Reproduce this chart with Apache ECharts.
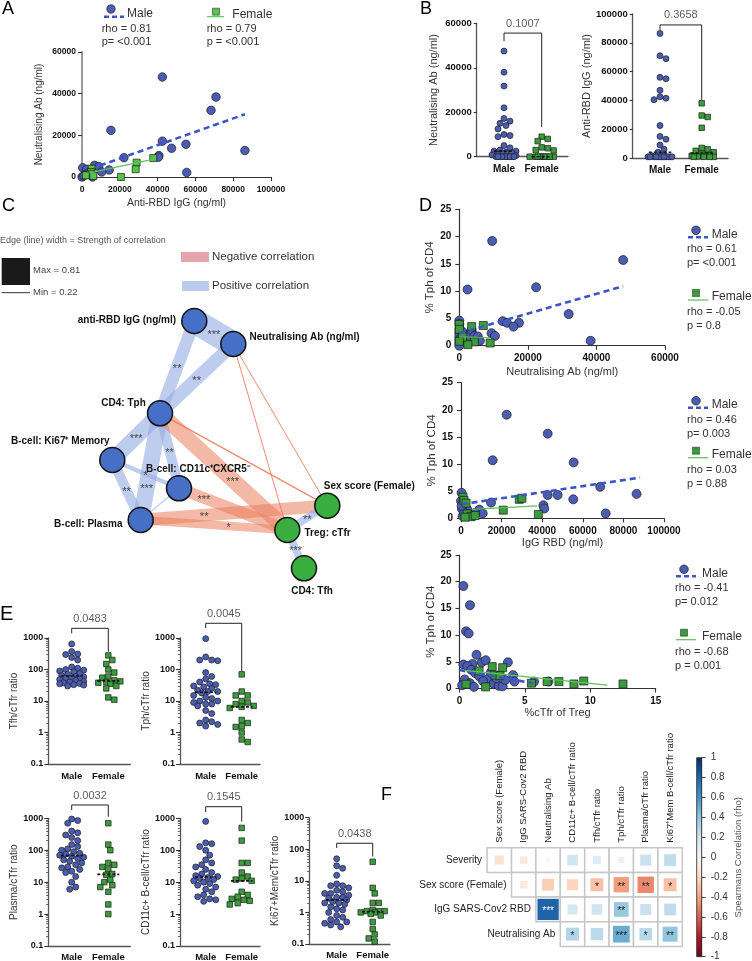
<!DOCTYPE html>
<html>
<head>
<meta charset="utf-8">
<script src="https://cdn.jsdelivr.net/npm/echarts@6.0.0/dist/echarts.min.js"></script>
<style>html,body{margin:0;padding:0;background:#fff;}#chart{width:752px;height:961px;}</style>
</head>
<body>
<div id="chart"></div>
<script>
// ================= DATA =================
const groups = ['Male', 'Female'];

// Panel A: Anti-RBD IgG (x) vs Neutralising Ab (y)
const A_male = [[42500,48000],[70900,38400],[68250,32000],[15300,22400],[42500,17200],[55000,15700],[47400,13800],[86200,12700],[40700,10300],[40400,9500],[22200,9300],[6700,5600],[8800,5000],[350,4400],[2500,3700],[14400,3400],[0,0],[2100,1300],[5600,0],[10400,2400],[55400,2200],[1000,600]];
const A_female = [[28900,6900],[37700,9100],[28400,3700],[5100,4000],[4800,2400],[4400,1500],[6000,500],[20600,0],[2000,800]];
const A_maleFit = [[9500,5500],[86200,30100]];
const A_femaleFit = [[4000,2000],[38000,8600]];
const A_stats = ['rho = 0.81', 'p= <0.001', 'rho = 0.79', 'p = <0.001'];

// Panel B
const B_neut_male = [47500,38000,31800,22000,17200,16000,15000,14000,12500,10000,9500,9000,5000,4000,3000,2500,2500,2000,1800,1500,1000,800,500,0,0,0,0,0,0,0,0,0,0];
const B_neut_female = [9000,8000,7000,4200,3800,3000,2800,0,0,0,0,0,0,0,0,0,0];
const B_igg_male = [86500,71000,69000,56000,55000,47000,42500,41500,40500,22500,15000,13000,9000,6000,4000,2000,1500,800,800,800,800,800,800,800,800,800,800,800,800];
const B_igg_female = [38000,29500,28500,21000,7000,6000,5000,4000,3000,2000,1500,1000,800,800,800,800];
const B_p = ['0.1007', '0.3658'];

// Panel C: correlation network
const C_nodes = ['anti-RBD IgG (ng/ml)','Neutralising Ab (ng/ml)','CD4: Tph','B-cell: Ki67\u207A Memory','B-cell: CD11c\u207ACXCR5\u207B','B-cell: Plasma','Sex score (Female)','Treg: cTfr','CD4: Tfh'];
const C_nodeXY = [[194.3,321],[233.3,344],[160,413.3],[112.3,460],[179,488.3],[140.7,520],[327.3,505.7],[287.3,530],[304,568.3]];
const C_nodeGroup = ['B','B','B','B','B','B','G','G','G'];
// [source, target, rho, significance]
const C_edges = [[0,1,0.81,'***'],[0,2,0.50,'**'],[1,2,0.52,'**'],[2,3,0.58,'***'],[2,4,0.44,'**'],[2,5,0.60,'***'],[3,5,0.44,'**'],[3,4,0.30,'*'],[4,5,0.23,''],[2,7,-0.58,'***'],[2,6,-0.23,''],[1,6,-0.22,''],[1,7,-0.22,''],[4,7,-0.48,'***'],[5,6,-0.50,'**'],[5,7,-0.40,'*'],[6,7,0.38,'**'],[7,8,0.38,'***']];

// Panel D
const D1_male = [[47800,15.7],[9600,19.2],[2400,10.3],[22400,10.7],[31900,5.8],[38300,0.9],[12650,4.5],[13900,4.2],[17400,4.2],[15800,3.5],[9400,2.3],[10400,1.8],[2300,2.0],[3600,2.9],[4400,1.8],[5400,1.7],[6000,0.9],[2600,0.7],[0,4.6],[0,4.0],[0,3.0],[0,2.3],[0,1.7],[0,1.1],[0,0.5],[0,0.0],[500,1.4],[800,2.6]];
const D1_female = [[3600,3.5],[7000,3.7],[0,3.9],[0,3.0],[4400,0.7],[9000,0.5],[2500,0.2],[1000,1.6],[0,0.8]];
const D1_maleFit = [[0,2.3],[47800,10.9]];
const D1_femaleFit = [[0,1.6],[9000,1.5]];
const D1_stats = ['rho = 0.61','p= <0.001','rho = -0.05','p = 0.8'];

const D2_male = [[22500,19.1],[42700,15.6],[15600,10.7],[55500,10.3],[68600,5.8],[86500,4.5],[42700,4.3],[47600,4.3],[55300,3.5],[14800,2.9],[40600,2.4],[41000,1.8],[71300,0.9],[9000,1.6],[10700,0.9],[7000,1.0],[3000,1.7],[5300,0.5],[300,4.7],[0,3.2],[500,1.7],[800,0.4],[1500,1.0],[300,2.3]];
const D2_female = [[28700,3.5],[30000,3.7],[20800,1.5],[38100,0.7],[1000,3.9],[1500,3.3],[2500,2.8],[3000,0.8],[5000,0.3],[7000,0.5],[2000,0.2]];
const D2_maleFit = [[300,2.6],[88200,7.5]];
const D2_femaleFit = [[5300,1.65],[37600,2.3]];
const D2_stats = ['rho = 0.46','p= 0.003','rho = 0.03','p = 0.88'];

const D3_male = [[0.3,19.2],[0.8,15.6],[0.5,10.7],[0.7,10.3],[3.7,4.9],[1.3,6.3],[1.7,4.9],[2.0,5.3],[1.0,4.6],[4.1,2.5],[4.2,1.3],[5.7,1.3],[6.8,1.3],[0.3,4.5],[0.6,4.2],[0.9,3.5],[1.2,2.9],[1.5,2.3],[2.2,1.8],[2.6,0.9],[3.0,0.5],[0.4,1.7],[0.8,1.0],[1.8,1.4],[2.8,1.9],[3.3,0.4],[0.2,0.6],[1.1,0.3],[2.4,3.0],[3.5,1.6]];
const D3_female = [[2.5,4.1],[3.3,3.9],[2.7,2.5],[3.1,2.4],[5.5,1.0],[6.7,1.3],[7.6,1.3],[8.75,0.85],[9.5,1.4],[12.5,0.85],[1.5,3.3],[0.5,0.8],[2.0,0.3]];
const D3_maleFit = [[0,3.45],[5.6,1.0]];
const D3_femaleFit = [[0.4,3.4],[11.3,0.65]];
const D3_stats = ['rho = -0.41','p= 0.012','rho = -0.68','p = 0.001'];

// Panel E (ratios, log scale)
const E_tfh_male = [650,370,310,300,240,200,120,110,100,95,90,85,75,70,65,60,58,55,52,50,48,45,42,40,38,36,35,33,32,30];
const E_tfh_female = [280,200,150,100,80,60,55,45,42,40,38,35,30,25,13,11];
const E_tph_male = [950,250,200,200,190,80,60,50,40,35,33,30,28,25,22,20,20,18,15,13,12,10,10,9,8,8,7,5,4,2.5,2.2,2,1.8,1.6];
const E_tph_female = [70,20,15,15,10,9,8,7,6.5,6,2.5,2,1.6,1.5,1,0.6,0.5];
const E_pla_male = [950,850,700,400,350,300,250,200,150,130,110,100,90,80,75,70,65,60,55,50,45,40,35,30,28,25,22,20,15,10,7,6];
const E_pla_female = [700,150,100,40,35,30,25,18,17,12,10,8,7,5,2,1];
const E_cd11_male = [800,170,160,130,100,70,50,40,35,30,25,20,18,16,15,14,13,12,11,10,9,8,7,6,5,4,3.5,3,2.8,2.5];
const E_cd11_female = [500,200,40,40,20,15,13,12,11,5,4,3.5,3,2.8,2.6,2.2,2];
const E_ki_male = [50,30,25,15,8,7,7,6,5,4.5,4,4,3.5,3,3,2.8,2.5,2.2,2,2,1.8,1.5,1.3,1.2,1,0.8,0.7,0.6,0.5,0.5,0.45,0.4,0.35];
const E_ki_female = [40,6,4,2,2,1.2,1.1,1.1,1.1,1,1,0.9,0.8,0.5,0.3,0.2,0.15,0.12];
const E_p = ['0.0483','0.0045','0.0032','0.1545','0.0438'];

// Panel F: Spearman correlation matrix
const F_cols = ['Sex score (Female)','IgG SARS-Cov2 RBD','Neutralising Ab','CD11c+ B-cell/cTfr ratio','Tfh/cTfr ratio','Tph/cTfr ratio','Plasma/cTfr ratio','Ki67\u207AMem B-cell/cTfr ratio'];
const F_rows = ['Severity','Sex score (Female)','IgG SARS-Cov2 RBD','Neutralising Ab'];
const F_rho = [
  [-0.15,-0.10,-0.03,0.20,0.12,0.07,0.22,0.25],
  [null,-0.10,-0.25,-0.22,-0.30,-0.42,-0.48,-0.30],
  [null,null,0.81,0.18,0.20,0.38,0.22,0.25],
  [null,null,null,0.30,0.27,0.50,0.28,0.40]
];
const F_stars = [
  ['','','','','','','',''],
  ['','','','','*','**','**','*'],
  ['','','***','','','**','',''],
  ['','','','*','','***','*','**']
];
const F_ticks = [-1,-0.8,-0.6,-0.4,-0.2,0,0.2,0.4,0.6,0.8,1];

// ================= STYLE / HELPERS =================
const FONT = "'Liberation Sans', Arial, Helvetica, sans-serif";
const MALE = '#4b5db2', FEMALE = '#3a9c3a', FEMALE_A = '#56c247', EDGE = '#1d1d1d';
const MALE_LINE = '#3a55c8', FEMALE_LINE = '#5cc25c';
const RDBU = ['#67001f','#b2182b','#d6604d','#f4a582','#fddbc7','#f7f7f7','#d1e5f0','#92c5de','#4393c3','#2166ac','#053061'];

function merge(a, b) {
  const o = Object.assign({}, a);
  for (const k in b) {
    const bv = b[k];
    if (bv && typeof bv === 'object' && !Array.isArray(bv) && typeof bv !== 'function' && a && a[k] && typeof a[k] === 'object' && !Array.isArray(a[k])) o[k] = merge(a[k], bv);
    else o[k] = bv;
  }
  return o;
}
function fmtNum(v) { return String(+(+v).toPrecision(6)); }
function median(a) { const s = a.slice().sort((x, y) => x - y); const n = s.length; return n % 2 ? s[(n - 1) / 2] : (s[n / 2 - 1] + s[n / 2]) / 2; }

const grids = [], xAxes = [], yAxes = [], series = [], graphic = [];
const axisBase = {
  type: 'value', splitLine: { show: false }, nameLocation: 'middle',
  axisLine: { show: true, onZero: false, lineStyle: { color: '#333', width: 1.2 } },
  axisTick: { show: true, inside: false, length: 4, lineStyle: { color: '#333', width: 1.1 } },
  axisLabel: { show: true, fontFamily: FONT, fontWeight: 'bold', fontSize: 9, color: '#111', margin: 6, formatter: fmtNum },
  nameTextStyle: { fontFamily: FONT, fontSize: 10.5, color: '#333' }
};
function addCart(g, xo, yo) {
  const gi = grids.push(merge({ outerBoundsMode: 'none', containLabel: false, show: false }, g)) - 1;
  const xi = xAxes.push(merge(merge(axisBase, { gridIndex: gi, position: 'bottom' }), xo)) - 1;
  const yi = yAxes.push(merge(merge(axisBase, { gridIndex: gi, position: 'left' }), yo)) - 1;
  return { gi, xi, yi };
}
function scatterS(c, data, sym, size, color, z) {
  return { type: 'scatter', xAxisIndex: c.xi, yAxisIndex: c.yi, data, symbol: sym, symbolSize: size,
    itemStyle: { color, borderColor: EDGE, borderWidth: 0.7, opacity: 1 }, z: z || 3, silent: true, clip: false };
}
function lineS(c, data, style, z) {
  return { type: 'line', xAxisIndex: c.xi, yAxisIndex: c.yi, data, symbol: 'none', showSymbol: false,
    lineStyle: style, z: z || 4, silent: true, clip: false };
}
function gText(x, y, text, size, extra) {
  return { type: 'text', x, y, silent: true, z: 10,
    style: Object.assign({ text, fontSize: size, fontFamily: FONT, fill: '#333', align: 'left', verticalAlign: 'middle' }, extra || {}) };
}

// beeswarm offsets (pixels), deterministic
function swarmOffsets(vals, toPx, diam, maxHalf) {
  const order = vals.map((v, i) => i).sort((a, b) => vals[b] - vals[a]);
  const placed = [], off = new Array(vals.length).fill(0);
  const step = diam / 3;
  const cands = [0];
  for (let k = 1; k * step <= maxHalf; k++) cands.push(k * step, -k * step);
  for (const i of order) {
    const y = toPx(vals[i]);
    let best = 0, bestD = -1;
    for (const c of cands) {
      let md = Infinity;
      for (const p of placed) { const d = Math.hypot(p.x - c, p.y - y); if (d < md) md = d; }
      if (md >= diam * 0.95) { best = c; break; }
      if (md > bestD) { bestD = md; best = c; }
    }
    placed.push({ x: best, y }); off[i] = best;
  }
  return off;
}

function swarmPanel(o) {
  const unit = o.xf - o.xm;
  const xmin = -(o.xm - o.left) / unit, xmax = xmin + o.width / unit;
  const lg = o.log;
  const toPx = v => lg
    ? (Math.log10(Math.max(v, 1e-9)) - Math.log10(o.yMin)) / (Math.log10(o.yMax) - Math.log10(o.yMin)) * o.height
    : (v - o.yMin) / (o.yMax - o.yMin) * o.height;
  const yOpt = lg ? { type: 'log', logBase: 10, min: o.yMin, max: o.yMax } : { min: o.yMin, max: o.yMax, interval: o.yInterval };
  const c = addCart({ left: o.left, top: o.top, width: o.width, height: o.height },
    { min: xmin, max: xmax, axisTick: { show: false },
      axisLabel: { customValues: [0, 1], formatter: v => groups[Math.round(v)], fontSize: o.catFont || 9.5, margin: o.xMargin || 6, color: '#111' },
      axisLine: { lineStyle: { color: '#555', width: 1.3 } } },
    merge(yOpt, { name: o.yName, nameGap: o.nameGap,
      axisLabel: { fontSize: o.tickFont || 9, margin: o.yMargin || 5 },
      axisTick: { length: o.tickLen || 4 },
      axisLine: { lineStyle: { color: '#555', width: 1.3 } },
      nameTextStyle: { fontSize: o.nameFont || 10, color: '#333' } }));
  if (lg) {
    const minors = [];
    for (let d = Math.round(Math.log10(o.yMin)); d < Math.round(Math.log10(o.yMax)); d++)
      for (let m = 2; m <= 9; m++) minors.push(d + Math.log10(m));
    yAxes.push({ gridIndex: c.gi, type: 'value', position: 'left', min: Math.log10(o.yMin), max: Math.log10(o.yMax),
      axisLine: { show: false, onZero: false }, axisLabel: { show: false }, splitLine: { show: false },
      axisTick: { show: true, length: 2.2, customValues: minors, lineStyle: { color: '#444', width: 0.8 } } });
  }
  [o.male, o.female].forEach((vals, g) => {
    const off = swarmOffsets(vals, toPx, o.diam, o.maxHalf);
    const data = vals.map((v, i) => [g + off[i] / unit, v]);
    series.push(scatterS(c, data, g ? 'rect' : 'circle', g ? o.diam * 0.92 : o.diam, g ? FEMALE : MALE, 3));
    const med = median(vals);
    series.push(lineS(c, [[g - o.medHalf, med], [g + o.medHalf, med]], { color: '#111', width: 1.6, type: [3, 2] }, 5));
  });
  const b = o.bracket;
  series.push(lineS(c, [[0, b.l], [0, b.t], [1, b.t], [1, b.r]], { color: '#222', width: 1 }, 2));
  series.push({ type: 'scatter', xAxisIndex: c.xi, yAxisIndex: c.yi, data: [[0.5, b.t]], symbolSize: 0, silent: true, clip: false,
    label: { show: true, position: 'top', distance: 4, formatter: b.text, fontFamily: FONT, fontSize: 11, color: '#333' } });
  return c;
}

function dPanel(o) {
  const c = addCart({ left: o.left, top: o.top, width: o.width, height: o.height },
    { min: 0, max: o.xMax, interval: o.xInterval, name: o.xName, nameGap: o.xGap,
      axisLabel: { fontSize: 10, margin: 8 }, nameTextStyle: { fontSize: 11, color: '#333' } },
    { min: 0, max: 25, interval: 5, name: '% Tph of CD4', nameGap: 20,
      axisLabel: { fontSize: 10, margin: 8 }, nameTextStyle: { fontSize: 11.5, color: '#333' } });
  series.push(scatterS(c, o.male, 'circle', 9, MALE, 3));
  series.push(scatterS(c, o.female, 'rect', 8, FEMALE, 3));
  series.push(lineS(c, o.maleFit, { color: MALE_LINE, width: 2.6, type: [6, 4] }, 5));
  series.push(lineS(c, o.femaleFit, { color: FEMALE_LINE, width: 1.2 }, 5));
  return c;
}

function legendBlock(x, yMale, yFemale, stats, xText, femaleColor) {
  graphic.push({ type: 'circle', shape: { cx: x + 8, cy: yMale - 4, r: 4.3 }, style: { fill: MALE, stroke: EDGE, lineWidth: 0.7 }, silent: true, z: 10 });
  graphic.push({ type: 'line', shape: { x1: x, y1: yMale + 3, x2: x + 20, y2: yMale + 3 }, style: { stroke: MALE_LINE, lineWidth: 2.6, lineDash: [5, 3] }, silent: true, z: 10 });
  graphic.push(gText(xText, yMale, 'Male', 12));
  graphic.push(gText(x - 1, yMale + 15, stats[0], 11));
  graphic.push(gText(x - 1, yMale + 29, stats[1], 11));
  graphic.push({ type: 'rect', shape: { x: x + 4.5, y: yFemale - 7.5, width: 7, height: 7 }, style: { fill: femaleColor, stroke: EDGE, lineWidth: 0.5 }, silent: true, z: 10 });
  graphic.push({ type: 'line', shape: { x1: x, y1: yFemale + 3, x2: x + 20, y2: yFemale + 3 }, style: { stroke: FEMALE_LINE, lineWidth: 1.2 }, silent: true, z: 10 });
  graphic.push(gText(xText, yFemale, 'Female', 12));
  graphic.push(gText(x - 1, yFemale + 15, stats[2], 11));
  graphic.push(gText(x - 1, yFemale + 29, stats[3], 11));
}

// ================= PANEL A =================
const cA = addCart({ left: 82, top: 52, width: 189, height: 125 },
  { min: 0, max: 100000, interval: 20000, name: 'Anti-RBD IgG (ng/ml)', nameGap: 21,
    axisLabel: { fontSize: 8.5, margin: 8 }, nameTextStyle: { fontSize: 10.5, color: '#333' } },
  { min: 0, max: 60000, interval: 20000, name: 'Neutralising Ab (ng/ml)', nameGap: 38,
    axisLine: { lineStyle: { color: '#9a9a9a', width: 2 } }, axisLabel: { fontSize: 8.5, margin: 6 },
    nameTextStyle: { fontSize: 10, color: '#333' } });
series.push(scatterS(cA, A_male, 'circle', 8.5, MALE, 3));
series.push(scatterS(cA, A_female, 'rect', 7, FEMALE_A, 3));
series.push(lineS(cA, A_maleFit, { color: MALE_LINE, width: 2.6, type: [6, 4] }, 5));
series.push(lineS(cA, A_femaleFit, { color: FEMALE_LINE, width: 1.2 }, 5));
graphic.push({ type: 'circle', shape: { cx: 111, cy: 9, r: 4.2 }, style: { fill: MALE, stroke: EDGE, lineWidth: 0.7 }, silent: true });
graphic.push({ type: 'line', shape: { x1: 104, y1: 16.7, x2: 124, y2: 16.7 }, style: { stroke: MALE_LINE, lineWidth: 2.6, lineDash: [5, 3] }, silent: true });
graphic.push(gText(127, 14, 'Male', 12));
graphic.push(gText(101.7, 29, A_stats[0], 11));
graphic.push(gText(101.7, 42.3, A_stats[1], 11));
graphic.push({ type: 'rect', shape: { x: 212.5, y: 8.2, width: 7, height: 7 }, style: { fill: FEMALE_A, stroke: EDGE, lineWidth: 0.5 }, silent: true });
graphic.push({ type: 'line', shape: { x1: 207, y1: 16.7, x2: 224, y2: 16.7 }, style: { stroke: FEMALE_LINE, lineWidth: 1.2 }, silent: true });
graphic.push(gText(232.3, 14.3, 'Female', 12));
graphic.push(gText(206.7, 29, A_stats[2], 11));
graphic.push(gText(206.7, 42.3, A_stats[3], 11));

// ================= PANEL B =================
swarmPanel({ left: 476.7, top: 23.3, width: 91.3, height: 133.4, xm: 504, xf: 541.7, log: false,
  yMin: 0, yMax: 60000, yInterval: 20000, male: B_neut_male, female: B_neut_female, diam: 6, maxHalf: 13, medHalf: 0.27,
  yName: 'Neutralising Ab (ng/ml)', nameGap: 37, nameFont: 11, tickFont: 9.5, tickLen: 3, yMargin: 5, xMargin: 8, catFont: 10,
  bracket: { t: 55600, l: 52000, r: 13400, text: B_p[0] } });
swarmPanel({ left: 632.7, top: 14, width: 95.3, height: 144, xm: 660, xf: 701.7, log: false,
  yMin: 0, yMax: 100000, yInterval: 20000, male: B_igg_male, female: B_igg_female, diam: 6, maxHalf: 13, medHalf: 0.27,
  yName: 'Anti-RBD IgG (ng/ml)', nameGap: 38, nameFont: 11, tickFont: 9.5, tickLen: 3, yMargin: 5, xMargin: 7, catFont: 10,
  bracket: { t: 92400, l: 88900, r: 40300, text: B_p[1] } });

// ================= PANEL C =================
const cC = addCart({ left: 0, top: 0, width: 752, height: 961 },
  { min: 0, max: 752, show: false }, { min: 0, max: 961, inverse: true, show: false });
const C_labelCfg = [
  { position: 'left', distance: 5, offset: [0, -1] },
  { position: 'right', distance: 3, offset: [0, -7] },
  { position: 'left', distance: 1, offset: [0, -10] },
  { position: 'top', distance: 1, offset: [-52, 0] },
  { position: 'top', distance: 1, offset: [19, 0] },
  { position: 'left', distance: 5, offset: [0, 4] },
  { position: 'top', distance: 1, offset: [42, 0] },
  { position: 'right', distance: 4, offset: [0, 3] },
  { position: 'bottom', distance: 5, offset: [8, 0] }
];
const C_starT = [0.5,0.5,0.5,0.5,0.5,0.69,0.5,0.5,0.5,0.57,0.5,0.5,0.5,0.23,0.34,0.6,0.5,0.5];
const edgeW = r => 1 + (Math.abs(r) - 0.22) / 0.59 * 24;
const edgeC = r => r > 0 ? 'rgba(150,173,226,0.62)' : (Math.abs(r) < 0.26 ? 'rgba(235,120,85,0.85)' : 'rgba(234,125,92,0.55)');
series.push({
  type: 'graph', coordinateSystem: 'cartesian2d', xAxisIndex: cC.xi, yAxisIndex: cC.yi, layout: 'none',
  silent: true, z: 2, emphasis: { disabled: true },
  data: C_nodes.map((n, i) => ({ name: n, value: C_nodeXY[i], symbolSize: 25,
    itemStyle: { color: C_nodeGroup[i] === 'B' ? '#4570c5' : '#3aaf3f', borderColor: '#111', borderWidth: 1.5 },
    label: merge({ show: true, fontFamily: FONT, fontWeight: 'bold', fontSize: 10, color: '#111' }, C_labelCfg[i]) })),
  links: C_edges.map(e => ({ source: C_nodes[e[0]], target: C_nodes[e[1]],
    lineStyle: { width: edgeW(e[2]), color: edgeC(e[2]), opacity: 1, curveness: 0 } })),
  lineStyle: { opacity: 1 }
});
series.push({
  type: 'scatter', xAxisIndex: cC.xi, yAxisIndex: cC.yi, silent: true, z: 6, symbolSize: 0, clip: false,
  data: C_edges.map((e, i) => ({ e, t: C_starT[i] })).filter(d => d.e[3]).map(d => {
    const a = C_nodeXY[d.e[0]], b = C_nodeXY[d.e[1]];
    return { value: [a[0] + (b[0] - a[0]) * d.t, a[1] + (b[1] - a[1]) * d.t + 2],
      label: { show: true, position: 'inside', formatter: d.e[3], fontFamily: FONT, fontSize: 11, color: '#222' } };
  })
});
graphic.push(gText(0, 240.7, 'Edge (line) width = Strength of correlation', 9, { fill: '#555' }));
graphic.push({ type: 'rect', shape: { x: 1.7, y: 258, width: 28.3, height: 27 }, style: { fill: '#1a1a1a' }, silent: true });
graphic.push(gText(33, 270.5, 'Max = 0.81', 9.5, { fill: '#444' }));
graphic.push({ type: 'line', shape: { x1: 1.7, y1: 292.7, x2: 30, y2: 292.7 }, style: { stroke: '#333', lineWidth: 1 }, silent: true });
graphic.push(gText(33, 292.7, 'Min = 0.22', 9.5, { fill: '#444' }));
graphic.push({ type: 'rect', shape: { x: 181, y: 252, width: 28, height: 10 }, style: { fill: '#e4a4ae' }, silent: true });
graphic.push(gText(212, 257, 'Negative correlation', 11.5, { fill: '#333' }));
graphic.push({ type: 'rect', shape: { x: 182, y: 281, width: 27, height: 10 }, style: { fill: '#bccbea' }, silent: true });
graphic.push(gText(212, 286, 'Positive correlation', 11.5, { fill: '#333' }));

// ================= PANEL D =================
dPanel({ left: 459.3, top: 209.3, width: 205.7, height: 136.4, xMax: 60000, xInterval: 20000, xName: 'Neutralising Ab (ng/ml)', xGap: 21,
  male: D1_male, female: D1_female, maleFit: D1_maleFit, femaleFit: D1_femaleFit });
dPanel({ left: 461, top: 382.7, width: 203, height: 135.6, xMax: 100000, xInterval: 20000, xName: 'IgG RBD (ng/ml)', xGap: 19,
  male: D2_male, female: D2_female, maleFit: D2_maleFit, femaleFit: D2_femaleFit });
dPanel({ left: 459.5, top: 555, width: 196.2, height: 133.5, xMax: 15, xInterval: 5, xName: '%cTfr of Treg', xGap: 18,
  male: D3_male, female: D3_female, maleFit: D3_maleFit, femaleFit: D3_femaleFit });
legendBlock(688, 234.3, 297, D1_stats, 711.7, FEMALE);
legendBlock(688, 404.7, 454.7, D2_stats, 711.7, FEMALE);
legendBlock(676, 573.3, 636.7, D3_stats, 702, FEMALE);

// ================= PANEL E =================
const eCommon = { log: true, yMin: 0.1, yMax: 1000, diam: 6, maxHalf: 13, medHalf: 0.3, tickFont: 9, yMargin: 5, tickLen: 4, catFont: 9.5, nameFont: 10 };
swarmPanel(Object.assign({}, eCommon, { left: 48.3, top: 638, width: 82, height: 126, xm: 71.7, xf: 108.3, xMargin: 7,
  male: E_tfh_male, female: E_tfh_female, yName: 'Tfh/cTfr ratio', nameGap: 27, bracket: { t: 2030, l: 1410, r: 367, text: E_p[0] } }));
swarmPanel(Object.assign({}, eCommon, { left: 180, top: 638, width: 80, height: 126, xm: 205.7, xf: 241.7, xMargin: 7,
  male: E_tph_male, female: E_tph_female, yName: 'Tph/cTfr ratio', nameGap: 24, bracket: { t: 2930, l: 2075, r: 85, text: E_p[1] } }));
swarmPanel(Object.assign({}, eCommon, { left: 48.3, top: 818.3, width: 82, height: 127.7, xm: 71.7, xf: 108.3, xMargin: 6,
  male: E_pla_male, female: E_pla_female, yName: 'Plasma/cTfr ratio', nameGap: 27, bracket: { t: 2610, l: 1820, r: 1120, text: E_p[2] } }));
swarmPanel(Object.assign({}, eCommon, { left: 180, top: 818.3, width: 80, height: 127.7, xm: 205.7, xf: 241.7, xMargin: 6,
  male: E_cd11_male, female: E_cd11_female, yName: 'CD11c+ B-cell/cTfr ratio', nameGap: 24, bracket: { t: 2310, l: 1575, r: 782, text: E_p[3] } }));
swarmPanel(Object.assign({}, eCommon, { left: 309.3, top: 817.7, width: 80.7, height: 126.3, xm: 336.7, xf: 372.7, xMargin: 6,
  male: E_ki_male, female: E_ki_female, yName: 'Ki67+Mem/cTfr ratio', nameGap: 22, bracket: { t: 155, l: 110, r: 59, text: E_p[4] } }));

// ================= PANEL F =================
const cF = addCart({ left: 487.1, top: 847.7, width: 195.2, height: 98.8 },
  { type: 'category', data: F_cols, position: 'top', axisLine: { show: false }, axisTick: { show: false },
    axisLabel: { rotate: -90, interval: 0, fontSize: 9.5, fontWeight: 'normal', color: '#222', margin: 5, formatter: null } },
  { type: 'category', data: F_rows, inverse: true, axisLine: { show: false }, axisTick: { show: false }, axisLabel: { show: false } });
const F_cells = [], F_sq = [], F_sqStars = [], F_rowStart = [];
F_rho.forEach((row, r) => {
  let start = -1;
  row.forEach((v, ci) => {
    if (v === null) return;
    if (start < 0) start = ci;
    F_cells.push([ci, r]);
    F_sq.push([ci, r, v]);
    F_sqStars.push(F_stars[r][ci]);
  });
  F_rowStart.push([start, r]);
});
series.push({ type: 'custom', xAxisIndex: cF.xi, yAxisIndex: cF.yi, data: F_cells, silent: true, z: 2,
  renderItem: (p, api) => {
    const c = api.coord([api.value(0), api.value(1)]), s = api.size([1, 1]);
    return { type: 'rect', shape: { x: c[0] - s[0] / 2, y: c[1] - s[1] / 2, width: s[0], height: s[1] },
      style: { fill: '#fff', stroke: '#c6c6c6', lineWidth: 1.5 } };
  } });
const fSqIndex = series.length;
series.push({ type: 'custom', xAxisIndex: cF.xi, yAxisIndex: cF.yi, data: F_sq, silent: true, z: 3,
  dimensions: ['col', 'row', 'rho'], encode: { x: 0, y: 1 },
  renderItem: (p, api) => {
    const c = api.coord([api.value(0), api.value(1)]), s = api.size([1, 1]);
    const rho = api.value(2);
    const a = Math.min(s[0], s[1]) * 0.97 * Math.sqrt(Math.abs(rho));
    const ch = [{ type: 'rect', shape: { x: c[0] - a / 2, y: c[1] - a / 2, width: a, height: a }, style: { fill: api.visual('color') } }];
    const st = F_sqStars[p.dataIndex];
    if (st) ch.push({ type: 'text', x: c[0], y: c[1] + 2, style: { text: st, fill: Math.abs(rho) > 0.7 ? '#fff' : '#222', fontSize: 10, fontFamily: FONT, align: 'center', verticalAlign: 'middle' } });
    return { type: 'group', children: ch };
  } });
series.push({ type: 'custom', xAxisIndex: cF.xi, yAxisIndex: cF.yi, data: F_rowStart, silent: true, z: 3,
  renderItem: (p, api) => {
    const c = api.coord([api.value(0), api.value(1)]), s = api.size([1, 1]);
    return { type: 'text', x: c[0] - s[0] / 2 - 5, y: c[1], style: { text: F_rows[api.value(1)], fill: '#222', fontSize: 10, fontFamily: FONT, align: 'right', verticalAlign: 'middle' } };
  } });
graphic.push({ type: 'rect', shape: { x: 696.7, y: 757.7, width: 5, height: 199 }, silent: true, z: 5,
  style: { fill: { type: 'linear', x: 0, y: 0, x2: 0, y2: 1, colorStops: RDBU.slice().reverse().map((c, i) => ({ offset: i / 10, color: c })) }, stroke: '#222', lineWidth: 0.8 } });
const cBar = addCart({ left: 696.7, top: 757.7, width: 5, height: 199 },
  { min: 0, max: 1, show: false },
  { min: F_ticks[0], max: F_ticks[F_ticks.length - 1], interval: 0.2, position: 'right',
    axisLine: { lineStyle: { color: '#222', width: 0.8 } }, axisTick: { length: 4, lineStyle: { color: '#222', width: 0.8 } },
    axisLabel: { fontWeight: 'normal', fontSize: 10, color: '#333', margin: 9 },
    name: 'Spearmans Correlation (rho)', nameGap: 32, nameRotate: 90, nameTextStyle: { fontSize: 9.5, color: '#555' } });

// ================= PANEL LETTERS =================
[['A', 2, 0, 18], ['B', 420, 0, 18], ['C', 2, 197, 18], ['D', 419, 197, 18], ['E', 0, 604, 20], ['F', 381, 786, 18]].forEach(l => {
  graphic.push({ type: 'text', x: l[1], y: l[2], silent: true, style: { text: l[0], fontSize: l[3], fontFamily: FONT, fill: '#000', align: 'left', verticalAlign: 'top' } });
});

const chart = echarts.init(document.getElementById('chart'), null, { renderer: 'canvas' });
chart.setOption({
  animation: false,
  textStyle: { fontFamily: FONT },
  grid: grids, xAxis: xAxes, yAxis: yAxes, series,
  visualMap: [{ type: 'continuous', show: false, min: -1, max: 1, dimension: 2, seriesIndex: fSqIndex, inRange: { color: RDBU } }],
  graphic: { elements: graphic }
});
</script>
</body>
</html>
